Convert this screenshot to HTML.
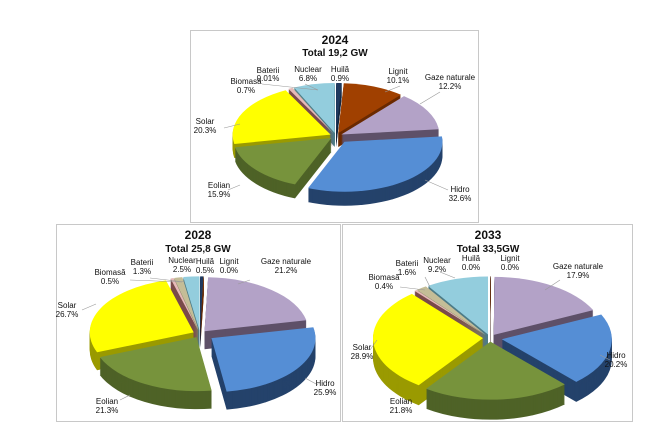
<!DOCTYPE html>
<html><head><meta charset="utf-8"><style>
html,body{margin:0;padding:0;background:#fff;width:670px;height:430px;overflow:hidden}
svg text{font-family:"Liberation Sans",sans-serif;fill:#111}
.t{font-size:12px;font-weight:bold}
.s{font-size:10px;font-weight:bold}
.l{font-size:8px}
</style></head><body>
<svg id="c" width="670" height="430" xmlns="http://www.w3.org/2000/svg">
<rect x="190.5" y="30.5" width="288" height="192" fill="#fff" stroke="#c8c8c8"/>
<rect x="56.5" y="224.5" width="284" height="197" fill="#fff" stroke="#c8c8c8"/>
<rect x="342.5" y="224.5" width="290" height="197" fill="#fff" stroke="#c8c8c8"/>
<g id="pies"></g>
<g stroke="#999" stroke-width="0.6" fill="none">
<path d="M262,84 L318,90"/><path d="M305,84 L318,90"/><path d="M400,86 L385,92"/><path d="M440,92 L420,104"/><path d="M224,128 L240,124"/><path d="M228,190 L240,185"/><path d="M448,190 L425,180"/>
<path d="M130,280 L182,282"/><path d="M150,278 L185,282"/><path d="M250,280 L238,284"/><path d="M82,310 L96,304"/><path d="M120,400 L130,395"/><path d="M318,385 L305,378"/>
<path d="M400,287 L425,290"/><path d="M425,277 L430,287"/><path d="M440,272 L455,278"/><path d="M560,280 L545,290"/><path d="M370,350 L377,340"/><path d="M610,360 L600,355"/>
</g>
<g text-anchor="middle">
<text class="t" x="335" y="44">2024</text><text class="s" x="335" y="56">Total 19,2 GW</text>
<text class="l" x="268" y="73">Baterii</text><text class="l" x="268" y="81">0.01%</text>
<text class="l" x="308" y="72">Nuclear</text><text class="l" x="308" y="81">6.8%</text>
<text class="l" x="340" y="72">Huilă</text><text class="l" x="340" y="81">0.9%</text>
<text class="l" x="398" y="74">Lignit</text><text class="l" x="398" y="83">10.1%</text>
<text class="l" x="450" y="80">Gaze naturale</text><text class="l" x="450" y="89">12.2%</text>
<text class="l" x="246" y="84">Biomasă</text><text class="l" x="246" y="93">0.7%</text>
<text class="l" x="205" y="124">Solar</text><text class="l" x="205" y="133">20.3%</text>
<text class="l" x="219" y="188">Eolian</text><text class="l" x="219" y="197">15.9%</text>
<text class="l" x="460" y="192">Hidro</text><text class="l" x="460" y="201">32.6%</text>

<text class="t" x="198" y="239">2028</text><text class="s" x="198" y="252">Total  25,8 GW</text>
<text class="l" x="142" y="265">Baterii</text><text class="l" x="142" y="274">1.3%</text>
<text class="l" x="182" y="263">Nuclear</text><text class="l" x="182" y="272">2.5%</text>
<text class="l" x="205" y="264">Huilă</text><text class="l" x="205" y="273">0.5%</text>
<text class="l" x="229" y="264">Lignit</text><text class="l" x="229" y="273">0.0%</text>
<text class="l" x="286" y="264">Gaze naturale</text><text class="l" x="286" y="273">21.2%</text>
<text class="l" x="110" y="275">Biomasă</text><text class="l" x="110" y="284">0.5%</text>
<text class="l" x="67" y="308">Solar</text><text class="l" x="67" y="317">26.7%</text>
<text class="l" x="107" y="404">Eolian</text><text class="l" x="107" y="413">21.3%</text>
<text class="l" x="325" y="386">Hidro</text><text class="l" x="325" y="395">25.9%</text>

<text class="t" x="488" y="239">2033</text><text class="s" x="488" y="252">Total 33,5GW</text>
<text class="l" x="471" y="261">Huilă</text><text class="l" x="471" y="270">0.0%</text>
<text class="l" x="510" y="261">Lignit</text><text class="l" x="510" y="270">0.0%</text>
<text class="l" x="437" y="263">Nuclear</text><text class="l" x="437" y="272">9.2%</text>
<text class="l" x="407" y="266">Baterii</text><text class="l" x="407" y="275">1.6%</text>
<text class="l" x="384" y="280">Biomasă</text><text class="l" x="384" y="289">0.4%</text>
<text class="l" x="578" y="269">Gaze naturale</text><text class="l" x="578" y="278">17.9%</text>
<text class="l" x="362" y="350">Solar</text><text class="l" x="362" y="359">28.9%</text>
<text class="l" x="616" y="358">Hidro</text><text class="l" x="616" y="367">20.2%</text>
<text class="l" x="401" y="404">Eolian</text><text class="l" x="401" y="413">21.8%</text>
</g>
</svg>
<script>
var C={hu:'#1f3a5f',li:'#a04000',ga:'#b3a2c7',hi:'#558ed5',eo:'#77933c',so:'#ffff00',bi:'#e6b9b8',ba:'#c4bd97',nu:'#93cddd'};
var D={hu:'#14263f',li:'#6b2a00',ga:'#5e5068',hi:'#24426b',eo:'#4e6227',so:'#9a9a00',bi:'#7a4a4a',ba:'#7f7a5e',nu:'#4d7b86'};
function dark(k){return D[k];}
function pie(cx,cy,rx,ry,d,data,exp){
 var g=document.getElementById('pies'),ns='http://www.w3.org/2000/svg';
 var tot=0;data.forEach(function(s){tot+=s[1];});
 var a=0,sl=[];
 data.forEach(function(s){var span=s[1]/tot*2*Math.PI;sl.push([s[0],a,a+span,s[2]||exp]);a+=span;});
 function path(s,dy){
  var m=(s[1]+s[2])/2,e=s[3],ox=cx+e*Math.sin(m),oy=cy-e*Math.cos(m)*ry/rx+dy;
  var x1=ox+rx*Math.sin(s[1]),y1=oy-ry*Math.cos(s[1]),x2=ox+rx*Math.sin(s[2]),y2=oy-ry*Math.cos(s[2]);
  var la=(s[2]-s[1])>Math.PI?1:0;
  if(s[2]-s[1]<0.002){x2=x1+0.6;}
  return 'M'+ox+','+oy+' L'+x1+','+y1+' A'+rx+','+ry+' 0 '+la+' 1 '+x2+','+y2+' Z';
 }
 for(var dy=d;dy>0;dy--){sl.forEach(function(s){var p=document.createElementNS(ns,'path');p.setAttribute('d',path(s,dy));p.setAttribute('fill',dark(s[0]));g.appendChild(p);});}
 sl.forEach(function(s){var p=document.createElementNS(ns,'path');p.setAttribute('d',path(s,0));p.setAttribute('fill',C[s[0]]);g.appendChild(p);});
}
pie(336,136,98,50,14,[['hu',0.9],['li',10.1],['ga',12.2],['hi',32.6,14],['eo',15.9],['so',20.3],['bi',0.7],['ba',0.05],['nu',6.8]],6);
pie(200,334,104,54,18,[['hu',0.5],['li',0.05],['ga',21.2],['hi',25.9,14],['eo',21.3],['so',26.7],['bi',0.5],['ba',1.3],['nu',2.5]],7);
pie(490,338,110,58,20,[['hu',0.05],['li',0.05],['ga',17.9],['hi',20.2,12],['eo',21.8],['so',28.9],['bi',0.4],['ba',1.6],['nu',9.2]],7);
</script>
</body></html>
